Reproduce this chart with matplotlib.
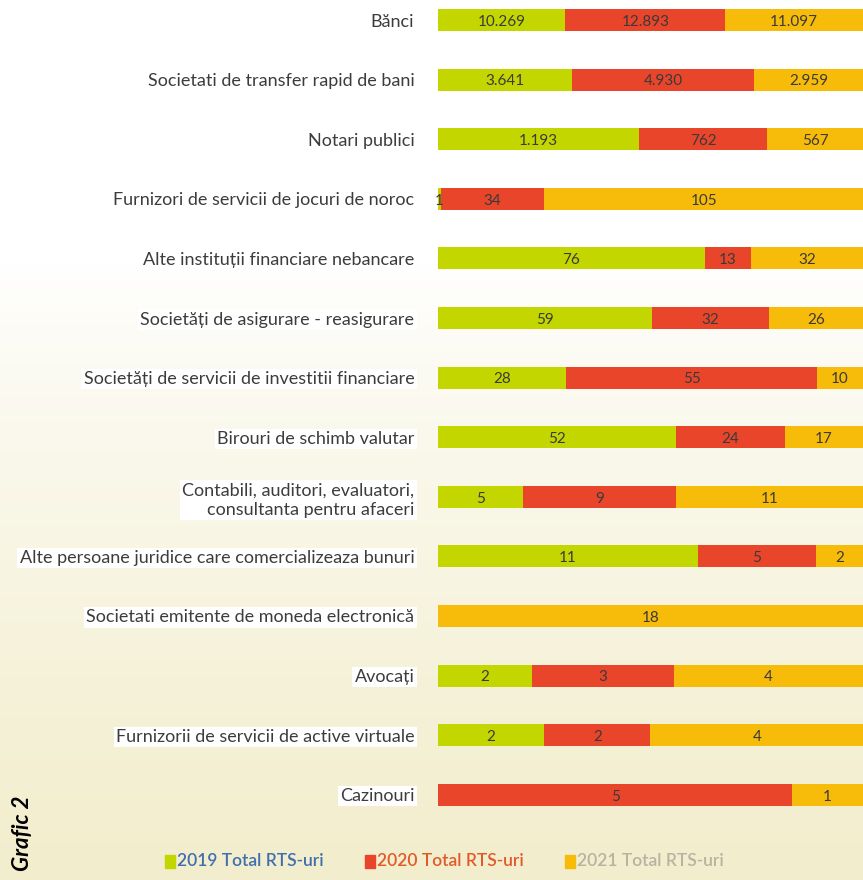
import numpy as np
import matplotlib.pyplot as plt
from matplotlib.patches import Rectangle

plt.rcParams['font.family'] = ['Lato', 'DejaVu Sans']

categories = [
    'Bănci',
    'Societati de transfer rapid de bani',
    'Notari publici',
    'Furnizori de servicii de jocuri de noroc',
    'Alte instituții financiare nebancare',
    'Societăți de asigurare - reasigurare',
    'Societăți de servicii de investitii financiare',
    'Birouri de schimb valutar',
    'Contabili, auditori, evaluatori,\nconsultanta pentru afaceri',
    'Alte persoane juridice care comercializeaza bunuri',
    'Societati emitente de moneda electronică',
    'Avocați',
    'Furnizorii de servicii de active virtuale',
    'Cazinouri',
]
rts_2019 = [10269, 3641, 1193, 1, 76, 59, 28, 52, 5, 11, 0, 2, 2, 0]
rts_2020 = [12893, 4930, 762, 34, 13, 32, 55, 24, 9, 5, 0, 3, 2, 5]
rts_2021 = [11097, 2959, 567, 105, 32, 26, 10, 17, 11, 2, 18, 4, 4, 1]

series = [rts_2019, rts_2020, rts_2021]
series_names = ['2019 Total RTS-uri', '2020 Total RTS-uri', '2021 Total RTS-uri']
colors = ['#c4d600', '#e8452b', '#f7bb0a']
name_colors = ['#3f6fae', '#e25a2a', '#b9b2a2']

fig = plt.figure(figsize=(8.63, 8.80), dpi=100)

# soft white-to-cream background
bg = fig.add_axes([0, 0, 1, 1], zorder=-1)
t = np.linspace(0, 1, 256)[:, None]
fade = np.clip((t - 0.3) / 0.7, 0, 1) ** 0.8
top = np.array([1.0, 1.0, 1.0])
bottom = np.array([0.95, 0.93, 0.80])
grad = top + (bottom - top) * fade[..., None]
bg.imshow(np.repeat(grad, 2, axis=1), aspect='auto', extent=[0, 1, 1, 0])
bg.set_axis_off()

ax = fig.add_axes([0.5075, 0, 0.4925, 1])
ax.patch.set_alpha(0)

data = np.array(series, dtype=float)
totals = data.sum(axis=0)
shares = data / totals
y = np.arange(len(categories))
left = np.zeros(len(categories))
for k in range(3):
    ax.barh(y, shares[k], left=left, height=0.37, color=colors[k], linewidth=0)
    for i in range(len(categories)):
        v = series[k][i]
        if v == 0:
            continue
        label = f'{v:,}'.replace(',', '.')
        ax.text(left[i] + shares[k][i] / 2, y[i] + 0.03, label, ha='center', va='center',
                fontsize=11, color='#3a3a3a')
    left += shares[k]

ax.set_xlim(0, 1)
ax.set_ylim(14.43, -0.336)
ax.set_xticks([])
ax.set_yticks(y)
ax.set_yticklabels(categories, fontsize=13, color='#3c3c3c', ha='right', linespacing=1.25)
for lbl in ax.get_yticklabels():
    lbl.set_bbox(dict(facecolor='white', edgecolor='none', pad=1.5))
ax.tick_params(axis='y', length=0, pad=17)
for s in ax.spines.values():
    s.set_visible(False)

# legend row
W, H = 863, 880
leg_x = [165, 365, 565]
for k in range(3):
    fig.patches.append(Rectangle((leg_x[k] / W, 1 - 868 / H), 10 / W, 13 / H,
                                 transform=fig.transFigure, color=colors[k]))
    fig.text((leg_x[k] + 12) / W, 1 - 861 / H, series_names[k], fontsize=12.5,
             fontweight='semibold', color=name_colors[k], va='center', ha='left')

fig.text(22 / W, 1 - 833 / H, 'Grafic 2', rotation=90, fontsize=16,
         fontweight='bold', fontstyle='italic', color='black', ha='center', va='center')

fig.savefig('out.png', dpi=100)
